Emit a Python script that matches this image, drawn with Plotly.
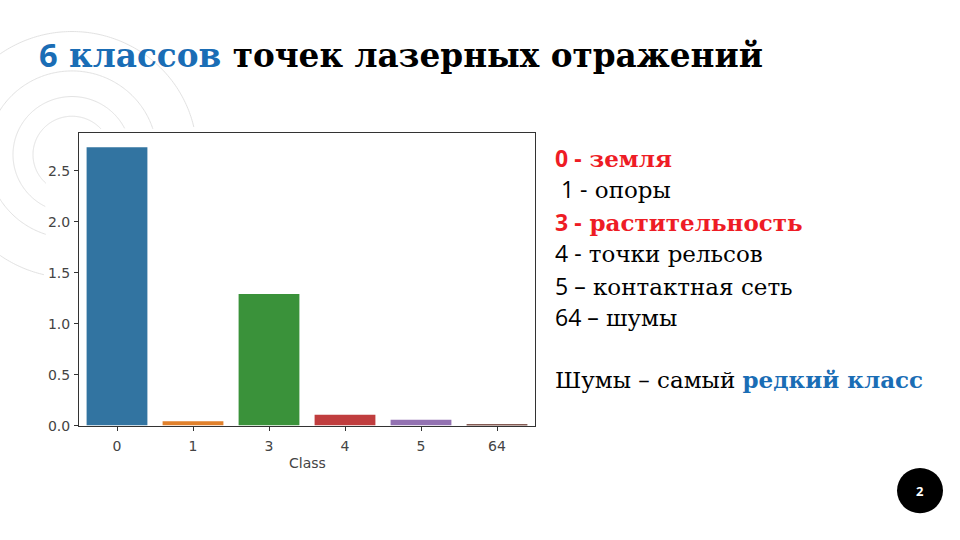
import math
import plotly.graph_objects as go

W, H = 960, 540

# ---- data ----
classes = ["0", "1", "3", "4", "5", "64"]
values = [2.73, 0.043, 1.29, 0.107, 0.058, 0.016]
bar_colors = ["#3274a1", "#e1812c", "#3a923a", "#c03d3e", "#9372b2", "#845b53"]
y_ticks = [0.0, 0.5, 1.0, 1.5, 2.0, 2.5]
x_label = "Class"

title_parts = ["6", "классов", "точек лазерных отражений"]
legend_lines = [
    ("0 -", "земля", True),
    ("&nbsp;1 -", "опоры", False),
    ("3 -", "растительность", True),
    ("4 -", "точки рельсов", False),
    ("5 –", "контактная сеть", False),
    ("64 –", "шумы", False),
]
note_parts = ["Шумы – самый", "редкий класс"]
page_number = "2"

BLUE = "#1a6db5"
RED = "#ee1c25"
SANS = "Open Sans"
SERIF = "DejaVu Serif"


def px(x):
    return x / W


def py(y):
    return 1 - y / H


fig = go.Figure()
fig.add_trace(go.Bar(
    x=classes, y=values,
    marker=dict(color=bar_colors, line=dict(width=0)),
    width=0.8,
    showlegend=False,
))

shapes = []
# decorative concentric circles (hidden where the chart image sits)
cx, cy = 72, 157
img_x0, img_x1, img_y0, img_y1 = 46, 545, 131, 482
for r in [39, 59, 85, 125]:
    segs, cur = [], []
    n = 360
    for i in range(n + 1):
        a = 2 * math.pi * i / n
        x = cx + r * math.cos(a)
        y = cy - r * math.sin(a)
        hidden = (img_x0 <= x <= img_x1) and (img_y0 <= y <= img_y1)
        if hidden:
            if len(cur) > 1:
                segs.append(cur)
            cur = []
        else:
            cur.append((x, y))
    if len(cur) > 1:
        segs.append(cur)
    path = ""
    for s in segs:
        path += "M" + "L".join(f"{px(x):.5f},{py(y):.5f}" for x, y in s) + " "
    shapes.append(dict(type="path", xref="paper", yref="paper", path=path.strip(),
                       line=dict(color="#e2e2e2", width=1), layer="below"))
# page number badge
shapes.append(dict(type="circle", xref="paper", yref="paper",
                   x0=px(897), x1=px(943), y0=py(521), y1=py(475),
                   fillcolor="black", line=dict(width=0)))

annotations = []
# title
title_html = (
    f'<b><span style="font-family:{SANS};color:{BLUE}">{title_parts[0]}</span> '
    f'<span style="color:{BLUE}">{title_parts[1]}</span> {title_parts[2]}</b>'
)
annotations.append(dict(x=px(37), y=py(55), xref="paper", yref="paper",
                        xanchor="left", yanchor="middle", showarrow=False,
                        text=title_html,
                        font=dict(family=SERIF, size=32.7, color="black")))

# right-hand legend text
line_y = [160, 192, 225, 257, 290, 322]
for (num, word, hl), yy in zip(legend_lines, line_y):
    if hl:
        txt = (f'<b><span style="font-family:{SANS}">{num}</span> {word}</b>')
        col = RED
    else:
        txt = (f'<span style="font-family:{SANS}">{num}</span> {word}')
        col = "black"
    annotations.append(dict(x=px(553), y=py(yy), xref="paper", yref="paper",
                            xanchor="left", yanchor="middle", showarrow=False,
                            text=txt, font=dict(family=SERIF, size=23, color=col)))

annotations.append(dict(x=px(553), y=py(385), xref="paper", yref="paper",
                        xanchor="left", yanchor="middle", showarrow=False,
                        text=f'{note_parts[0]} <b><span style="color:{BLUE}">{note_parts[1]}</span></b>',
                        font=dict(family=SERIF, size=23, color="black")))

annotations.append(dict(x=px(920), y=py(498), xref="paper", yref="paper",
                        xanchor="center", yanchor="middle", showarrow=False,
                        text=f"<b>{page_number}</b>",
                        font=dict(family=SANS, size=13, color="white")))

# x label
annotations.append(dict(x=px(307), y=py(470), xref="paper", yref="paper",
                        xanchor="center", yanchor="middle", showarrow=False,
                        text=x_label,
                        font=dict(family="DejaVu Sans", size=14, color="#444444")))

axis_common = dict(showline=True, linecolor="#333333", linewidth=1, mirror=True,
                   ticks="outside", ticklen=4, tickcolor="#333333",
                   showgrid=False, zeroline=False,
                   tickfont=dict(family="DejaVu Sans", size=14, color="#444444"))

fig.update_layout(
    width=W, height=H,
    margin=dict(l=0, r=0, t=0, b=0),
    paper_bgcolor="white",
    plot_bgcolor="white",
    shapes=shapes,
    annotations=annotations,
    xaxis=dict(domain=[px(79), px(535)], type="category", range=[-0.5, 5.5],
               ticklabelstandoff=4, **axis_common),
    yaxis=dict(domain=[py(432), py(135)], range=[0, 2.87],
               tickvals=y_ticks, ticktext=[f"{v:.1f}" for v in y_ticks],
               ticklabelstandoff=1, **axis_common),
    bargap=0.2,
)

fig.write_html("out.html")
